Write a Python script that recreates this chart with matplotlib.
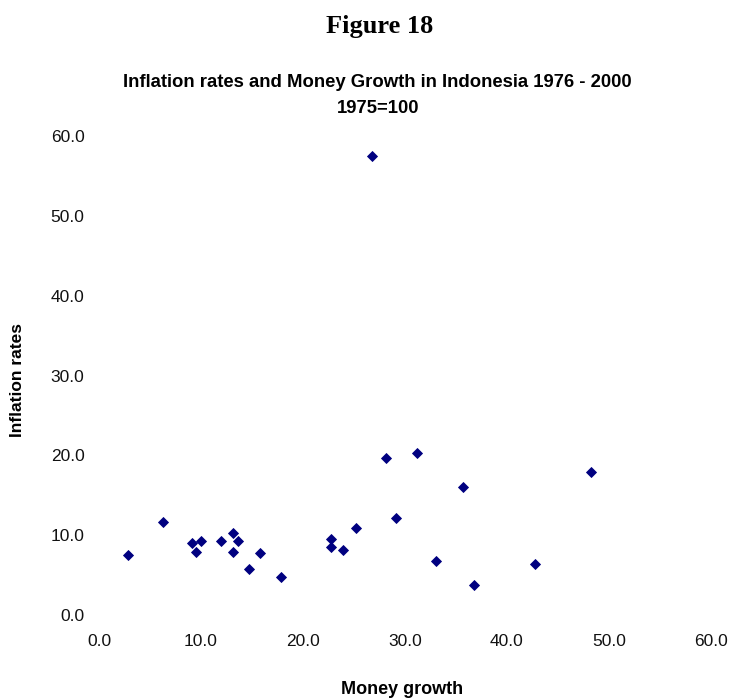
import matplotlib
matplotlib.use("Agg")
import matplotlib.pyplot as plt

# Data: money growth (x) vs inflation rate (y), Indonesia 1976-2000
money_growth = [2.87, 6.30, 9.09, 9.97, 9.48, 11.96, 13.17, 13.66, 13.17, 15.78,
                14.74, 17.87, 22.75, 22.75, 23.95, 25.20, 28.11, 31.21, 35.69, 48.24,
                29.15, 33.04, 36.76, 42.75, 26.79]
inflation = [7.5, 11.66, 9.08, 9.29, 7.88, 9.29, 10.29, 9.29, 7.88, 7.71,
             5.75, 4.71, 9.5, 8.46, 8.13, 10.91, 19.71, 20.29, 16.08, 17.92,
             12.13, 6.71, 3.75, 6.33, 57.5]
ticks = [0, 10, 20, 30, 40, 50, 60]
tick_labels = ["0.0", "10.0", "20.0", "30.0", "40.0", "50.0", "60.0"]

W, H = 729, 700
fig = plt.figure(figsize=(W / 100, H / 100), dpi=100)
sans = "Liberation Sans"

ax = fig.add_axes([99 / W, 1 - 615 / H, 612 / W, 479 / H])
ax.plot(money_growth, inflation, linestyle="none", marker="D", markersize=4.6,
        color="#000080", markeredgewidth=0.6, clip_on=False)
ax.set_xlim(0, 60)
ax.set_ylim(0, 60)
ax.set_xticks(ticks)
ax.set_xticklabels(tick_labels, fontsize=12.5, family=sans, color="#111111")
ax.set_yticks(ticks)
ax.set_yticklabels(tick_labels, fontsize=12.5, family=sans, color="#111111")
ax.tick_params(axis="x", length=0, pad=14)
ax.tick_params(axis="y", length=0, pad=10.5)
for s in ax.spines.values():
    s.set_visible(False)

fig.text(380 / W, 1 - 33 / H, "Figure 18", ha="center", va="baseline",
         fontsize=19, fontweight="bold", family="Liberation Serif")
fig.text(377 / W, 1 - 87 / H, "Inflation rates and Money Growth in Indonesia 1976 - 2000",
         ha="center", va="baseline", fontsize=13.3, fontweight="bold", family=sans)
fig.text(378 / W, 1 - 113 / H, "1975=100", ha="center", va="baseline",
         fontsize=13.3, fontweight="bold", family=sans)
fig.text(402 / W, 1 - 690 / H, "Money growth", ha="center", va="center",
         fontsize=13, fontweight="bold", family=sans)
fig.text(18 / W, 1 - 380 / H, "Inflation rates", ha="center", va="center",
         rotation=90, fontsize=12.5, fontweight="bold", family=sans)

fig.savefig("out.png", dpi=100, facecolor="white")
